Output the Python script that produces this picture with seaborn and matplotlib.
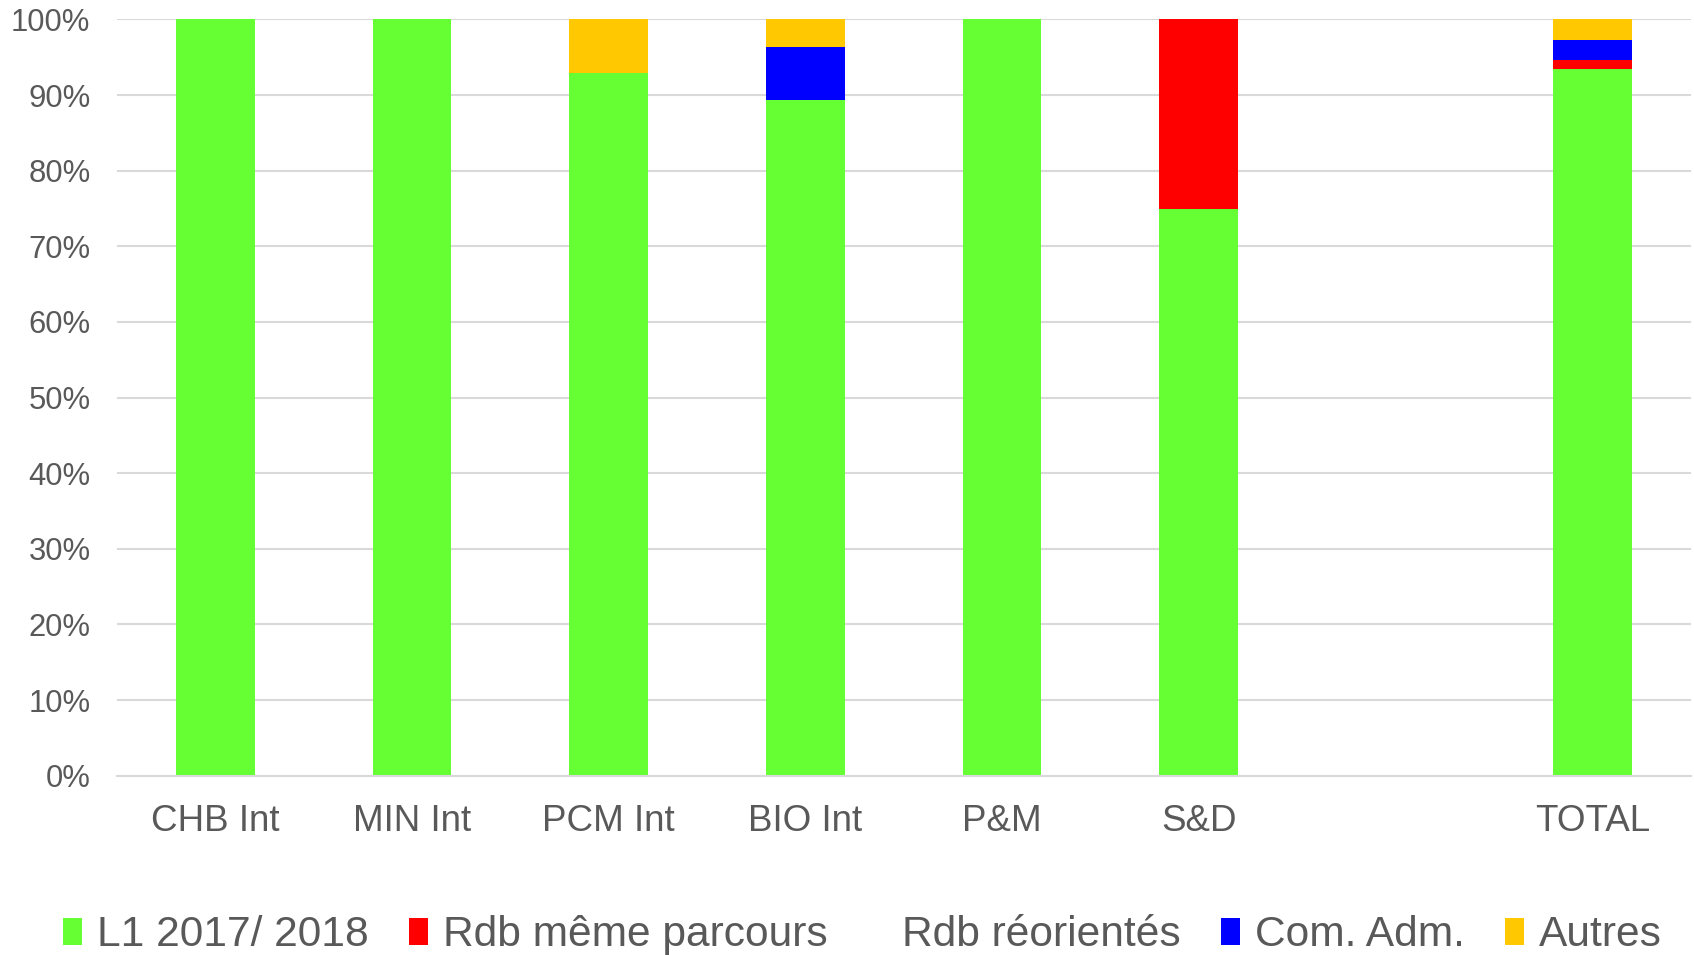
import numpy as np
import pandas as pd
import matplotlib
matplotlib.use("Agg")
import matplotlib.pyplot as plt
from matplotlib.patches import Patch
from matplotlib.ticker import PercentFormatter, MultipleLocator
import seaborn as sns

categories = ["CHB Int", "MIN Int", "PCM Int", "BIO Int", "P&M", "S&D", "", "TOTAL"]
l1_2017_2018 = [100.0, 100.0, 92.9, 89.3, 100.0, 75.0, np.nan, 93.4]
rdb_meme_parcours = [0.0, 0.0, 0.0, 0.0, 0.0, 25.0, np.nan, 1.3]
rdb_reorientes = [0.0, 0.0, 0.0, 0.0, 0.0, 0.0, np.nan, 0.0]
com_adm = [0.0, 0.0, 0.0, 7.1, 0.0, 0.0, np.nan, 2.6]
autres = [0.0, 0.0, 7.1, 3.6, 0.0, 0.0, np.nan, 2.7]

series_names = ["L1 2017/ 2018", "Rdb même parcours", "Rdb réorientés", "Com. Adm.", "Autres"]
series_values = [l1_2017_2018, rdb_meme_parcours, rdb_reorientes, com_adm, autres]
series_colors = ["#66FF33", "#FF0000", "#FFFFFF", "#0000FF", "#FFC800"]

sns.set_style("white")
plt.rcParams["font.family"] = ["Liberation Sans", "DejaVu Sans"]
text_color = "#595959"

df = pd.DataFrame({"category": categories})
cum = np.zeros(len(categories))
for name, vals in zip(series_names, series_values):
    cum = cum + np.array(vals, dtype=float)
    df[name] = cum.copy()

fig = plt.figure(figsize=(16.94, 9.55), dpi=100)
ax = fig.add_axes([0.069, 0.1877, 0.929, 0.7919])

# draw stacked bars as overlaid cumulative bars (top layer first)
for name, color in reversed(list(zip(series_names, series_colors))):
    if name == "Rdb réorientés":
        continue
    sns.barplot(data=df, x="category", y=name, order=categories, color=color,
                saturation=1, width=0.4, errorbar=None, linewidth=0, ax=ax)

ax.set_ylim(0, 100)
ax.set_xlim(-0.5, len(categories) - 0.5)
ax.yaxis.set_major_locator(MultipleLocator(10))
ax.yaxis.set_major_formatter(PercentFormatter(decimals=0))
ax.set_axisbelow(True)
ax.grid(axis="y", color="#D9D9D9", linewidth=1.5)
ax.grid(axis="x", visible=False)
for s in ["top", "right", "left"]:
    ax.spines[s].set_visible(False)
ax.spines["bottom"].set_color("#D9D9D9")
ax.spines["bottom"].set_linewidth(1.5)
ax.tick_params(axis="y", labelsize=22.3, colors=text_color, length=0, pad=19)
ax.tick_params(axis="x", labelsize=26.5, colors=text_color, length=0, pad=20)
ax.set_xlabel("")
ax.set_ylabel("")

handles = [Patch(facecolor=c, edgecolor="none") for c in series_colors]
fig.legend(handles, series_names, loc="center", bbox_to_anchor=(0.509, 0.0205),
           ncol=5, frameon=False, fontsize=30.6, labelcolor=text_color,
           handlelength=0.45, handleheight=0.6, handletextpad=0.35, columnspacing=0.95)

fig.savefig("out.png", dpi=100, facecolor="white")
